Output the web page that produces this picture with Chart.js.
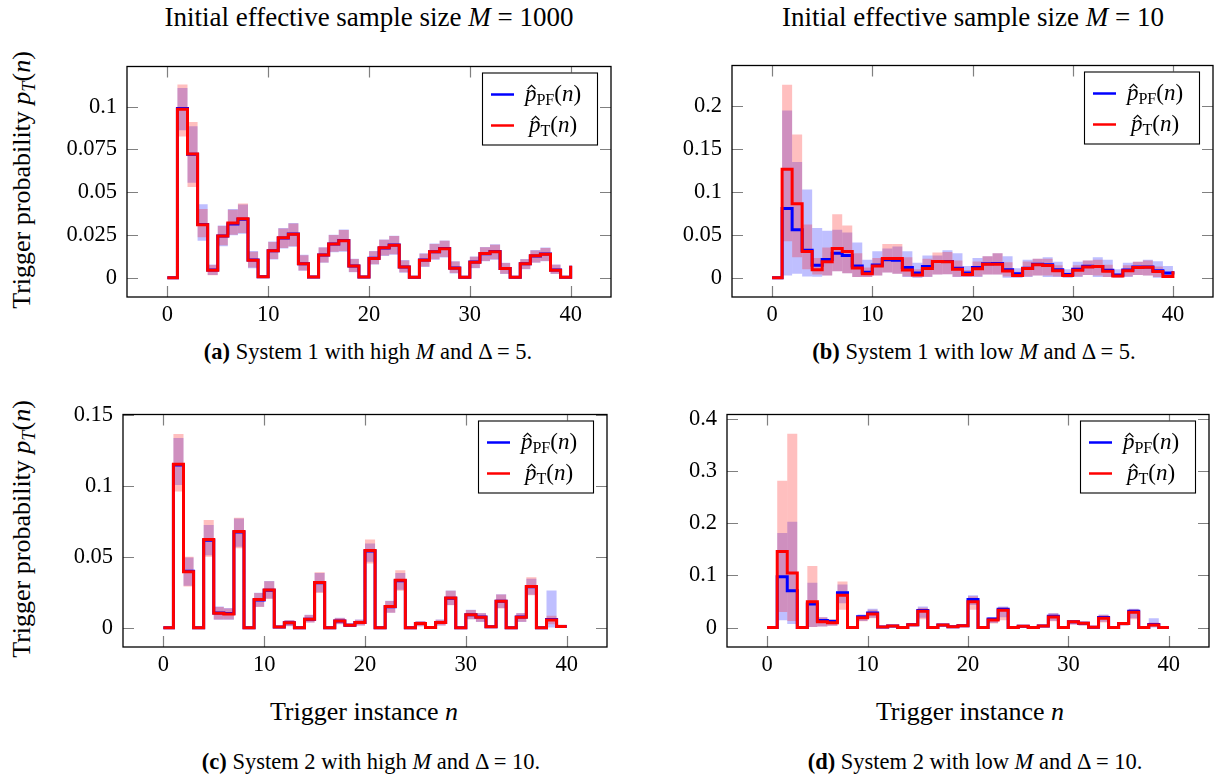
<!DOCTYPE html>
<html>
<head>
<meta charset="utf-8">
<script src="https://cdn.jsdelivr.net/npm/chart.js@4.4.1/dist/chart.umd.min.js"></script>
<style>
  body { margin: 0; width: 1214px; height: 779px; overflow: hidden; background: #fff; position: relative; font-family: "Liberation Serif", "Times New Roman", serif; color: #000; }
  canvas { position: absolute; }
  .txt { position: absolute; white-space: nowrap; transform: translate(-50%, -50%); line-height: 1; }
  .ytitle { transform: translate(-50%, -50%) rotate(-90deg); }
  .sub { font-size: 70%; position: relative; top: 0.28em; }
  .title { font-size: 27px; }
  .axis { font-size: 26px; }
  .cap { font-size: 22.5px; }
</style>
</head>
<body>
<div class="txt title" style="left:369px;top:17px">Initial effective sample size <i>M</i> = 1000</div>
<div class="txt title" style="left:973px;top:17px">Initial effective sample size <i>M</i> = 10</div>
<div class="txt axis ytitle" style="left:22px;top:180px">Trigger probability <i>p<span class="sub">T</span></i>(<i>n</i>)</div>
<div class="txt axis ytitle" style="left:22px;top:529px">Trigger probability <i>p<span class="sub">T</span></i>(<i>n</i>)</div>
<div class="txt cap" style="left:368px;top:352px"><b>(a)</b> System 1 with high <i>M</i> and Δ = 5.</div>
<div class="txt cap" style="left:974px;top:352px"><b>(b)</b> System 1 with low <i>M</i> and Δ = 5.</div>
<div class="txt axis" style="left:364px;top:712px">Trigger instance <i>n</i></div>
<div class="txt axis" style="left:970px;top:712px">Trigger instance <i>n</i></div>
<div class="txt cap" style="left:371px;top:762px"><b>(c)</b> System 2 with high <i>M</i> and Δ = 10.</div>
<div class="txt cap" style="left:975px;top:762px"><b>(d)</b> System 2 with low <i>M</i> and Δ = 10.</div>
<canvas id="chartA"></canvas>
<canvas id="chartB"></canvas>
<canvas id="chartC"></canvas>
<canvas id="chartD"></canvas>
<script>
// trigger instances n = 0..40
const instances = [0, 1, 2, 3, 4, 5, 6, 7, 8, 9, 10, 11, 12, 13, 14, 15, 16, 17, 18, 19, 20,
  21, 22, 23, 24, 25, 26, 27, 28, 29, 30, 31, 32, 33, 34, 35, 36, 37, 38, 39, 40];
const xTicks = [0, 10, 20, 30, 40];

// (a) System 1, M = 1000
const pfA = [0, 0.099, 0.0722, 0.0312, 0.0046, 0.0244, 0.0314, 0.0343, 0.0104, 0.0007, 0.0158, 0.0233, 0.0256, 0.0083, 0.0005, 0.0134, 0.0197, 0.0218, 0.0069, 0.0005, 0.0114, 0.0175, 0.0192, 0.0063, 0.0004, 0.0104, 0.0152, 0.0171, 0.0057, 0.0003, 0.0092, 0.0141, 0.0154, 0.0055, 0.0003, 0.0083, 0.0128, 0.0139, 0.0046, 0.0003, 0.007];
const tA = [0, 0.0985, 0.0723, 0.031, 0.0045, 0.0245, 0.0321, 0.0346, 0.0103, 0.0007, 0.0159, 0.0234, 0.0254, 0.0082, 0.0005, 0.0133, 0.0198, 0.0217, 0.0069, 0.0005, 0.0113, 0.0176, 0.0191, 0.0063, 0.0004, 0.0103, 0.0153, 0.017, 0.0056, 0.0003, 0.0091, 0.0142, 0.0153, 0.0054, 0.0003, 0.0082, 0.0129, 0.0138, 0.0045, 0.0003, 0.007];
const pfLoA = [null, 0.0863, 0.0555, 0.0217, 0.0017, 0.0185, 0.0249, 0.0258, 0.0056, 0, 0.0107, 0.0172, 0.0181, 0.0041, 0, 0.0088, 0.015, 0.0153, 0.0032, 0, 0.0078, 0.0127, 0.0135, 0.003, 0, 0.0063, 0.0106, 0.0119, 0.0026, 0, 0.0056, 0.0097, 0.0106, 0.0022, 0, 0.005, 0.0088, 0.0097, 0.0022, 0, null];
const pfHiA = [null, 0.111, 0.0886, 0.043, 0.0078, 0.0306, 0.0402, 0.0428, 0.0157, 0.0015, 0.0213, 0.0291, 0.032, 0.0135, 0.001, 0.0179, 0.0252, 0.0282, 0.0112, 0.001, 0.0157, 0.0224, 0.0246, 0.0104, 0.001, 0.0143, 0.02, 0.0218, 0.0097, 0.0008, 0.0125, 0.018, 0.0196, 0.0088, 0.0008, 0.011, 0.0162, 0.0177, 0.0078, 0.0008, null];
const tLoA = [null, 0.0826, 0.0531, 0.0237, 0.0015, 0.019, 0.0252, 0.0262, 0.006, 0, 0.011, 0.0175, 0.0185, 0.0043, 0, 0.009, 0.0153, 0.0157, 0.0034, 0, 0.008, 0.013, 0.0138, 0.0032, 0, 0.0066, 0.0109, 0.0122, 0.0028, 0, 0.0058, 0.0099, 0.0108, 0.0024, 0, 0.0052, 0.009, 0.0099, 0.0024, 0, null];
const tHiA = [null, 0.113, 0.091, 0.0402, 0.0075, 0.0303, 0.0398, 0.0435, 0.0152, 0.0014, 0.021, 0.0288, 0.0318, 0.0132, 0.001, 0.0177, 0.025, 0.028, 0.011, 0.001, 0.0155, 0.0222, 0.0244, 0.0102, 0.001, 0.0141, 0.0198, 0.0216, 0.0095, 0.0008, 0.0123, 0.0178, 0.0194, 0.0086, 0.0008, 0.0108, 0.016, 0.0175, 0.0076, 0.0008, null];
const yTicksA = [0, 0.025, 0.05, 0.075, 0.1];
const yLabelsA = ['0', '0.025', '0.05', '0.075', '0.1'];

// (b) System 1, M = 10
const pfB = [0, 0.0807, 0.0558, 0.032, 0.0145, 0.0212, 0.0286, 0.026, 0.0138, 0.0063, 0.0149, 0.0208, 0.0205, 0.012, 0.0056, 0.013, 0.019, 0.0189, 0.011, 0.0056, 0.012, 0.0164, 0.0167, 0.0093, 0.0045, 0.011, 0.0156, 0.015, 0.0093, 0.0037, 0.01, 0.0134, 0.0132, 0.0086, 0.0033, 0.0089, 0.0126, 0.0126, 0.0082, 0.0055, 0.0074];
const tB = [0, 0.1265, 0.0863, 0.0305, 0.0093, 0.0186, 0.0342, 0.0305, 0.0112, 0.0045, 0.0138, 0.0223, 0.0223, 0.009, 0.0033, 0.0107, 0.019, 0.0186, 0.01, 0.0037, 0.0104, 0.0156, 0.0156, 0.0078, 0.0026, 0.0108, 0.015, 0.0141, 0.0082, 0.0026, 0.0086, 0.0126, 0.013, 0.0074, 0.0019, 0.0082, 0.0119, 0.0123, 0.0071, 0.0015, 0.0074];
const pfLoB = [null, 0.0026, 0.0045, 0.0015, 0.001, 0.0026, 0.0074, 0.0052, 0.0007, 0.0007, 0.0026, 0.006, 0.0045, 0.0007, 0, 0.0007, 0.0037, 0.004, 0.0007, 0.0007, 0.0007, 0.0037, 0.0037, 0, 0, 0.0007, 0.0026, 0.0007, 0.0007, 0, 0.0007, 0.0033, 0.0007, 0.0007, 0, 0.0007, 0.0033, 0.0026, 0, 0, null];
const pfHiB = [null, 0.195, 0.135, 0.103, 0.058, 0.0547, 0.0558, 0.0528, 0.041, 0.021, 0.031, 0.0342, 0.0365, 0.031, 0.0175, 0.026, 0.026, 0.032, 0.0286, 0.0138, 0.023, 0.025, 0.0286, 0.025, 0.011, 0.021, 0.022, 0.0238, 0.0186, 0.01, 0.0186, 0.02, 0.0238, 0.021, 0.01, 0.0175, 0.0186, 0.021, 0.0193, 0.0138, null];
const tLoB = [null, 0.0424, 0.0238, 0.01, 0.0037, 0.0026, 0.0074, 0.0052, 0.0007, 0.0007, 0.0026, 0.006, 0.0045, 0.0015, 0.0004, 0.001, 0.0037, 0.004, 0.001, 0.0007, 0.0015, 0.0037, 0.0037, 0.0015, 0.0004, 0.0015, 0.0026, 0.0026, 0.0015, 0.0004, 0.0015, 0.0033, 0.0026, 0.0007, 0.0004, 0.0015, 0.0033, 0.0026, 0.0007, 0.0004, null];
const tHiB = [null, 0.225, 0.167, 0.062, 0.023, 0.0353, 0.074, 0.061, 0.0286, 0.012, 0.023, 0.0394, 0.0394, 0.024, 0.01, 0.022, 0.0294, 0.03, 0.02, 0.009, 0.019, 0.025, 0.0286, 0.018, 0.007, 0.019, 0.022, 0.022, 0.0145, 0.006, 0.0145, 0.02, 0.021, 0.015, 0.005, 0.0145, 0.0186, 0.02, 0.013, 0.005, null];
const yTicksB = [0, 0.05, 0.1, 0.15, 0.2];
const yLabelsB = ['0', '0.05', '0.1', '0.15', '0.2'];

// (c) System 2, M = 1000
const pfC = [0, 0.1146, 0.0398, 0, 0.0616, 0.0104, 0.01, 0.0675, 0, 0.0196, 0.0264, 0.0005, 0.0035, 0, 0.006, 0.0316, 0, 0.0048, 0.0018, 0.0037, 0.0541, 0, 0.0148, 0.0331, 0, 0.003, 0.0002, 0.0036, 0.0208, 0, 0.0092, 0.0075, 0.0007, 0.0186, 0, 0.0075, 0.0289, 0, 0.0057, 0.0009, 0.0009];
const tC = [0, 0.1152, 0.0395, 0, 0.0622, 0.0101, 0.0097, 0.0677, 0, 0.0198, 0.0266, 0.0005, 0.0034, 0, 0.0059, 0.0318, 0, 0.0047, 0.0018, 0.0036, 0.0544, 0, 0.0149, 0.0334, 0, 0.0029, 0.0002, 0.0036, 0.021, 0, 0.0092, 0.0074, 0.0007, 0.0187, 0, 0.0074, 0.0291, 0, 0.0054, 0.0009, 0.0009];
const pfLoC = [null, 0.1006, 0.0295, 0, 0.051, 0.0056, 0.0056, 0.0571, 0, 0.0147, 0.0205, 0, 0.0011, 0, 0.0036, 0.025, 0, 0.0025, 0.0005, 0.0015, 0.0465, 0, 0.0106, 0.0268, 0, 0.001, 0, 0.0015, 0.016, 0, 0.0059, 0.004, 0, 0.0138, 0, 0.004, 0.0232, 0, 0.0002, 0, null];
const pfHiC = [null, 0.1337, 0.0494, 0, 0.0724, 0.0149, 0.0138, 0.0769, 0, 0.0246, 0.0329, 0.0012, 0.0054, 0, 0.0092, 0.0386, 0, 0.007, 0.0032, 0.0058, 0.0593, 0, 0.019, 0.0386, 0, 0.0048, 0.0006, 0.0058, 0.0262, 0, 0.0126, 0.0104, 0.0015, 0.0235, 0, 0.0104, 0.0345, 0, 0.0262, 0.002, null];
const tLoC = [null, 0.096, 0.029, 0, 0.05, 0.0058, 0.0058, 0.056, 0, 0.0145, 0.0203, 0, 0.0012, 0, 0.0037, 0.0245, 0, 0.0026, 0.0005, 0.0016, 0.0453, 0, 0.0105, 0.026, 0, 0.001, 0, 0.0016, 0.0158, 0, 0.006, 0.0042, 0, 0.0136, 0, 0.0042, 0.0228, 0, 0.0025, 0, null];
const tHiC = [null, 0.1364, 0.05, 0, 0.0758, 0.0146, 0.0136, 0.0775, 0, 0.0244, 0.0327, 0.0012, 0.0052, 0, 0.009, 0.039, 0, 0.0068, 0.003, 0.0056, 0.0622, 0, 0.0188, 0.0405, 0, 0.0046, 0.0006, 0.0056, 0.026, 0, 0.0124, 0.0102, 0.0014, 0.0233, 0, 0.0102, 0.0355, 0, 0.0085, 0.002, null];
const yTicksC = [0, 0.05, 0.1, 0.15];
const yLabelsC = ['0', '0.05', '0.1', '0.15'];

// (d) System 2, M = 10
const pfD = [0, 0.0974, 0.0704, 0, 0.0453, 0.0135, 0.0116, 0.0667, 0, 0.0208, 0.028, 0.0012, 0.003, 0, 0.0055, 0.033, 0, 0.0049, 0.0018, 0.0037, 0.054, 0, 0.0166, 0.035, 0, 0.0025, 0, 0.003, 0.022, 0, 0.011, 0.0086, 0.0006, 0.0196, 0, 0.008, 0.0313, 0, 0.006, 0, 0];
const tD = [0, 0.1457, 0.1047, 0, 0.0496, 0.011, 0.0092, 0.0618, 0, 0.019, 0.0263, 0.0012, 0.003, 0, 0.0055, 0.0312, 0, 0.0049, 0.0018, 0.0037, 0.0497, 0, 0.0147, 0.0331, 0, 0.0025, 0, 0.003, 0.0202, 0, 0.011, 0.0086, 0.0006, 0.0178, 0, 0.008, 0.0294, 0, 0.005, 0, 0];
const pfLoD = [null, 0.014, 0.0067, 0, 0.001, 0.002, 0.0036, 0.0465, 0, 0.0128, 0.019, 0, 0.0008, 0, 0.0025, 0.019, 0, 0.0022, 0.0005, 0.0015, 0.0435, 0, 0.009, 0.02, 0, 0.0006, 0, 0.001, 0.013, 0, 0.006, 0.004, 0, 0.011, 0, 0.004, 0.018, 0, 0, 0, null];
const pfHiD = [null, 0.181, 0.2027, 0, 0.086, 0.02, 0.016, 0.0827, 0, 0.025, 0.036, 0.0025, 0.005, 0, 0.008, 0.0404, 0, 0.007, 0.003, 0.0055, 0.0618, 0, 0.02, 0.0405, 0, 0.004, 0.0005, 0.0045, 0.028, 0, 0.0135, 0.011, 0.0015, 0.025, 0, 0.0105, 0.036, 0, 0.0178, 0.001, null];
const tLoD = [null, 0.03, 0.0129, 0, 0.001, 0.002, 0.0036, 0.0343, 0, 0.012, 0.018, 0, 0.0008, 0, 0.0025, 0.016, 0, 0.0022, 0.0005, 0.0015, 0.0343, 0, 0.008, 0.014, 0, 0.0006, 0, 0.001, 0.012, 0, 0.006, 0.004, 0, 0.01, 0, 0.004, 0.016, 0, 0.001, 0, null];
const tHiD = [null, 0.281, 0.371, 0, 0.118, 0.02, 0.016, 0.0882, 0, 0.024, 0.034, 0.0025, 0.005, 0, 0.008, 0.038, 0, 0.007, 0.003, 0.0055, 0.06, 0, 0.019, 0.039, 0, 0.004, 0.0005, 0.0045, 0.027, 0, 0.0135, 0.011, 0.0015, 0.024, 0, 0.0105, 0.035, 0, 0.01, 0.001, null];
const yTicksD = [0, 0.1, 0.2, 0.3, 0.4];
const yLabelsD = ['0', '0.1', '0.2', '0.3', '0.4'];

const BLUE = 'rgb(0,0,255)';
const RED = 'rgb(255,0,0)';
const FONT = '"Liberation Serif", "Times New Roman", serif';
const Y_W = 75; // width kept for the y tick labels
const X_H = 40; // height kept for the x tick labels
const PAD_T = 14;
const PAD_R = 4;
const LEG_SIZE = 23;

const toLine = (vals) => instances.map((n, i) => ({ x: n, y: vals[i] }));
const toBand = (lo, hi) => instances
  .map((n, i) => (lo[i] === null ? null : { x: n + 0.5, y: [lo[i], hi[i]] }))
  .filter((d) => d !== null);

// math text: p-hat with subscript
const drawMath = (ctx, parts, x, y, size) => {
  let cx = x;
  parts.forEach((p) => {
    const fs = p.sub ? size * 0.7 : size;
    ctx.font = `${p.it ? 'italic ' : ''}${fs}px ${FONT}`;
    const w = ctx.measureText(p.t).width;
    ctx.fillText(p.t, cx, y + (p.sub ? size * 0.2 : 0));
    if (p.hat) {
      const hx = cx + w * 0.58;
      ctx.beginPath();
      ctx.moveTo(hx - 3.8, y - size * 0.5);
      ctx.lineTo(hx, y - size * 0.66);
      ctx.lineTo(hx + 3.8, y - size * 0.5);
      ctx.lineWidth = 1.1;
      ctx.strokeStyle = '#000';
      ctx.stroke();
    }
    cx += w;
  });
  return cx - x;
};
const measureMath = (ctx, parts, size) => parts.reduce((acc, p) => {
  ctx.font = `${p.it ? 'italic ' : ''}${p.sub ? size * 0.7 : size}px ${FONT}`;
  return acc + ctx.measureText(p.t).width;
}, 0);

const legendItems = [
  { color: BLUE, parts: [{ t: 'p', it: true, hat: true }, { t: 'PF', sub: true }, { t: '(' }, { t: 'n', it: true }, { t: ')' }] },
  { color: RED, parts: [{ t: 'p', it: true, hat: true }, { t: 'T', sub: true }, { t: '(' }, { t: 'n', it: true }, { t: ')' }] },
];

const framePlugin = {
  id: 'frame',
  afterDatasetsDraw(chart) {
    const { ctx, chartArea: a, scales } = chart;
    ctx.save();
    // inward ticks on all four sides
    ctx.strokeStyle = 'rgb(128,128,128)';
    ctx.lineWidth = 1.2;
    ctx.beginPath();
    scales.x.ticks.forEach((t) => {
      const px = Math.round(scales.x.getPixelForValue(t.value)) + 0.5;
      ctx.moveTo(px, a.bottom); ctx.lineTo(px, a.bottom - 11);
      ctx.moveTo(px, a.top); ctx.lineTo(px, a.top + 11);
    });
    scales.y.ticks.forEach((t) => {
      const py = Math.round(scales.y.getPixelForValue(t.value)) + 0.5;
      ctx.moveTo(a.left, py); ctx.lineTo(a.left + 11, py);
      ctx.moveTo(a.right, py); ctx.lineTo(a.right - 11, py);
    });
    ctx.stroke();
    // axis box
    ctx.strokeStyle = '#000';
    ctx.lineWidth = 1.3;
    ctx.strokeRect(a.left, a.top, a.right - a.left, a.bottom - a.top);
    // legend box
    const bw = 115;
    const bh = 72;
    const bx = a.right - 14 - bw;
    const by = a.top + 6;
    ctx.fillStyle = '#fff';
    ctx.fillRect(bx, by, bw, bh);
    ctx.lineWidth = 1.1;
    ctx.strokeRect(bx + 0.5, by + 0.5, bw, bh);
    legendItems.forEach((item, i) => {
      const ly = by + 22 + i * 31;
      ctx.strokeStyle = item.color;
      ctx.lineWidth = 2.5;
      ctx.beginPath();
      ctx.moveTo(bx + 9, ly);
      ctx.lineTo(bx + 32, ly);
      ctx.stroke();
      ctx.fillStyle = '#000';
      ctx.textBaseline = 'alphabetic';
      ctx.textAlign = 'left';
      const w = measureMath(ctx, item.parts, LEG_SIZE);
      drawMath(ctx, item.parts, bx + 71 - w / 2, ly + 6, LEG_SIZE);
    });
    ctx.restore();
  },
};

const makePanel = (id, area, yMin, yMax, yTicks, yLabels, pf, t, pfLo, pfHi, tLo, tHi) => {
  const canvas = document.getElementById(id);
  const left = area.l - Y_W;
  const top = area.t - PAD_T;
  canvas.width = area.r + PAD_R - left;
  canvas.height = area.b + X_H - top;
  canvas.style.left = `${left}px`;
  canvas.style.top = `${top}px`;
  const tickFont = { family: FONT, size: 22.5 };
  return new Chart(canvas, {
    type: 'bar',
    data: {
      datasets: [
        { type: 'line', data: toLine(t), borderColor: RED, borderWidth: 3, pointRadius: 0, stepped: true, fill: false, order: 0 },
        { type: 'line', data: toLine(pf), borderColor: BLUE, borderWidth: 3, pointRadius: 0, stepped: true, fill: false, order: 1 },
        { type: 'bar', data: toBand(tLo, tHi), backgroundColor: 'rgba(255,0,0,0.25)', borderWidth: 0, grouped: false, barPercentage: 1, categoryPercentage: 1, inflateAmount: 0, order: 2 },
        { type: 'bar', data: toBand(pfLo, pfHi), backgroundColor: 'rgba(0,0,255,0.25)', borderWidth: 0, grouped: false, barPercentage: 1, categoryPercentage: 1, inflateAmount: 0, order: 3 },
      ],
    },
    options: {
      responsive: false,
      animation: false,
      events: [],
      layout: { padding: { top: PAD_T, right: PAD_R, left: 0, bottom: 0 } },
      plugins: { legend: { display: false }, tooltip: { enabled: false } },
      scales: {
        x: {
          type: 'linear',
          min: -4,
          max: 44,
          offset: false,
          grid: { display: false, drawTicks: false },
          border: { display: false },
          afterBuildTicks: (s) => { s.ticks = xTicks.map((v) => ({ value: v })); },
          afterFit: (s) => { s.height = X_H; },
          ticks: { padding: 5, color: '#000', font: tickFont, autoSkip: false, maxRotation: 0, callback: (v) => String(v) },
        },
        y: {
          type: 'linear',
          min: yMin,
          max: yMax,
          grid: { display: false, drawTicks: false },
          border: { display: false },
          afterBuildTicks: (s) => { s.ticks = yTicks.map((v) => ({ value: v })); },
          afterFit: (s) => { s.width = Y_W; },
          ticks: { padding: 10, color: '#000', font: tickFont, autoSkip: false, callback: (v, i) => yLabels[i] },
        },
      },
    },
    plugins: [framePlugin],
  });
};

makePanel('chartA', { l: 127, t: 57, r: 611, b: 297 }, -0.0112, 0.1235, yTicksA, yLabelsA, pfA, tA, pfLoA, pfHiA, tLoA, tHiA);
makePanel('chartB', { l: 732, t: 56, r: 1213, b: 297 }, -0.0225, 0.2475, yTicksB, yLabelsB, pfB, tB, pfLoB, pfHiB, tLoB, tHiB);
makePanel('chartC', { l: 123, t: 405, r: 607, b: 647 }, -0.0136, 0.1502, yTicksC, yLabelsC, pfC, tC, pfLoC, pfHiC, tLoC, tHiC);
makePanel('chartD', { l: 727, t: 405, r: 1209, b: 647 }, -0.0371, 0.408, yTicksD, yLabelsD, pfD, tD, pfLoD, pfHiD, tLoD, tHiD);
</script>
</body>
</html>
